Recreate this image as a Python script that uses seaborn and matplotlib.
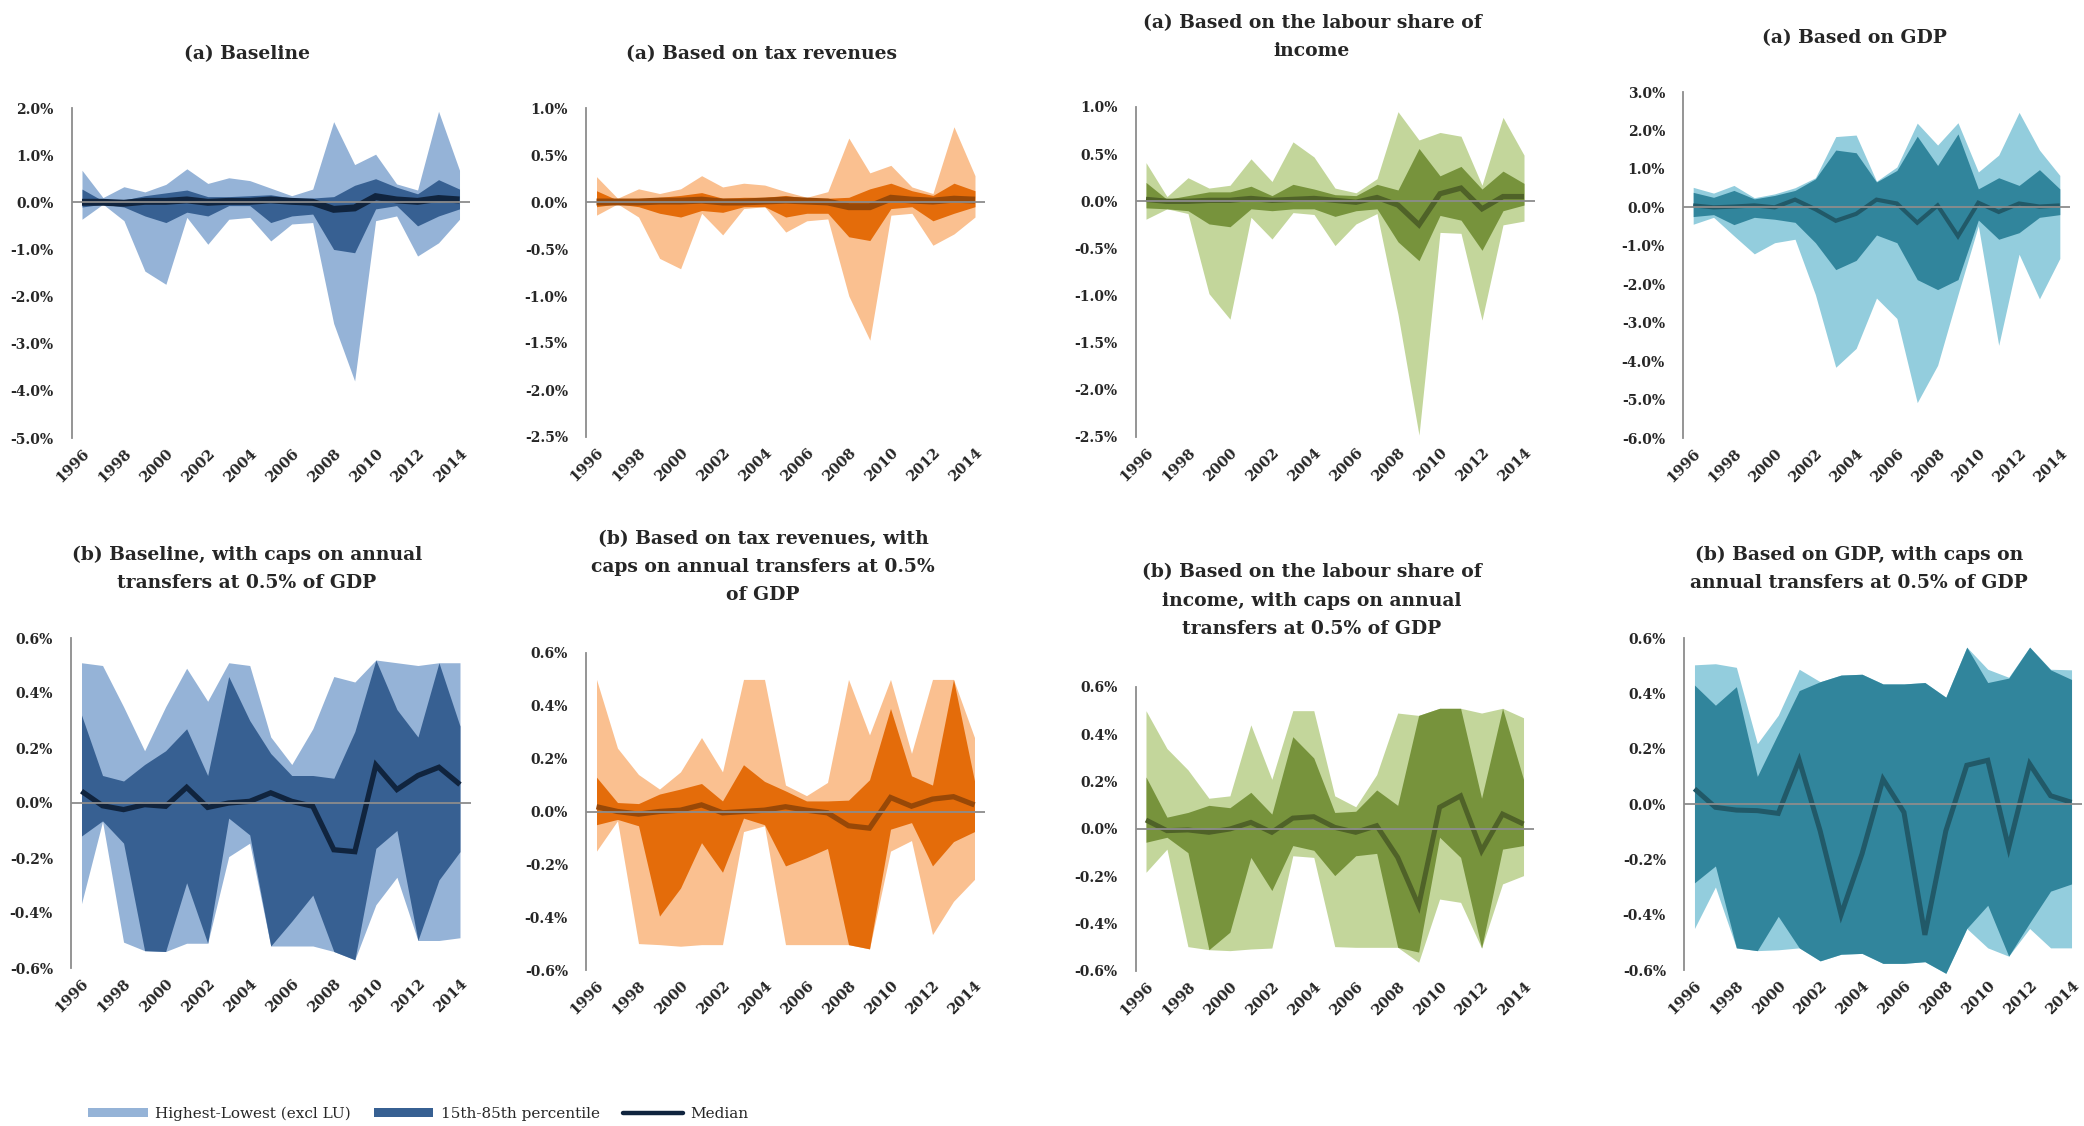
import matplotlib
matplotlib.use("Agg")
import matplotlib.pyplot as plt
from matplotlib.patches import Patch
from matplotlib.lines import Line2D
import seaborn as sns

years = list(range(1996, 2015))
year_ticks = years[::2]

# Values in % of GDP: highest, 85th percentile, median, 15th percentile, lowest (excl LU)
# (a) Baseline
base_hi = [0.68, 0.10, 0.33, 0.22, 0.38, 0.71, 0.40, 0.52, 0.46, 0.30, 0.14, 0.28, 1.71, 0.80, 1.02, 0.39, 0.26, 1.93, 0.68]
base_p85 = [0.28, 0.03, 0.05, 0.14, 0.20, 0.26, 0.12, 0.12, 0.14, 0.16, 0.09, 0.09, 0.12, 0.36, 0.50, 0.32, 0.18, 0.48, 0.28]
base_med = [0.00, 0.00, -0.02, 0.02, 0.02, 0.05, 0.00, 0.02, 0.02, 0.05, 0.02, 0.00, -0.15, -0.12, 0.12, 0.05, 0.02, 0.08, 0.05]
base_p15 = [-0.10, -0.04, -0.10, -0.29, -0.43, -0.21, -0.29, -0.07, -0.07, -0.43, -0.29, -0.25, -1.00, -1.07, -0.14, -0.07, -0.50, -0.29, -0.14]
base_lo = [-0.36, -0.04, -0.39, -1.46, -1.74, -0.32, -0.89, -0.36, -0.32, -0.82, -0.46, -0.43, -2.57, -3.79, -0.39, -0.29, -1.14, -0.86, -0.36]

# (a) Based on tax revenues
tax_hi = [0.27, 0.04, 0.14, 0.09, 0.14, 0.28, 0.16, 0.20, 0.18, 0.11, 0.05, 0.11, 0.68, 0.31, 0.39, 0.16, 0.09, 0.80, 0.28]
tax_p85 = [0.12, 0.02, 0.02, 0.05, 0.07, 0.10, 0.04, 0.05, 0.05, 0.07, 0.04, 0.04, 0.05, 0.14, 0.20, 0.12, 0.07, 0.20, 0.12]
tax_med = [0.00, 0.00, 0.00, 0.01, 0.01, 0.02, 0.00, 0.00, 0.01, 0.02, 0.01, 0.00, -0.05, -0.05, 0.04, 0.02, 0.01, 0.03, 0.02]
tax_p15 = [-0.05, -0.02, -0.05, -0.12, -0.16, -0.09, -0.11, -0.05, -0.05, -0.16, -0.12, -0.12, -0.37, -0.41, -0.07, -0.05, -0.20, -0.12, -0.05]
tax_lo = [-0.14, -0.02, -0.16, -0.60, -0.71, -0.12, -0.35, -0.07, -0.05, -0.32, -0.20, -0.18, -1.00, -1.47, -0.14, -0.12, -0.46, -0.34, -0.16]

# (a) Based on the labour share of income
lab_hi = [0.41, 0.05, 0.25, 0.14, 0.17, 0.45, 0.21, 0.63, 0.47, 0.14, 0.09, 0.24, 0.95, 0.65, 0.73, 0.69, 0.17, 0.89, 0.49]
lab_p85 = [0.20, 0.02, 0.06, 0.10, 0.10, 0.16, 0.06, 0.18, 0.13, 0.07, 0.06, 0.18, 0.12, 0.56, 0.27, 0.37, 0.13, 0.32, 0.19]
lab_med = [0.02, 0.00, 0.00, 0.01, 0.01, 0.03, 0.01, 0.02, 0.03, 0.01, -0.01, 0.04, -0.04, -0.25, 0.08, 0.14, -0.08, 0.05, 0.05]
lab_p15 = [-0.07, -0.08, -0.10, -0.24, -0.27, -0.08, -0.10, -0.08, -0.08, -0.16, -0.10, -0.08, -0.43, -0.63, -0.15, -0.20, -0.52, -0.10, -0.04]
lab_lo = [-0.19, -0.08, -0.13, -0.98, -1.25, -0.17, -0.40, -0.12, -0.14, -0.47, -0.24, -0.13, -1.20, -2.48, -0.33, -0.34, -1.26, -0.25, -0.21]

# (a) Based on GDP
gdp_hi = [0.52, 0.37, 0.57, 0.25, 0.35, 0.51, 0.77, 1.84, 1.88, 0.68, 1.05, 2.19, 1.62, 2.20, 0.92, 1.36, 2.47, 1.49, 0.83]
gdp_p85 = [0.39, 0.26, 0.44, 0.22, 0.31, 0.44, 0.74, 1.49, 1.42, 0.66, 0.96, 1.85, 1.09, 1.91, 0.48, 0.77, 0.57, 0.98, 0.48]
gdp_med = [0.05, 0.00, 0.02, 0.05, 0.00, 0.20, -0.05, -0.35, -0.17, 0.20, 0.10, -0.40, 0.05, -0.75, 0.12, -0.12, 0.10, 0.02, 0.05]
gdp_p15 = [-0.24, -0.19, -0.45, -0.26, -0.31, -0.39, -0.92, -1.62, -1.38, -0.72, -0.92, -1.88, -2.14, -1.88, -0.33, -0.83, -0.66, -0.26, -0.19]
gdp_lo = [-0.44, -0.26, -0.74, -1.21, -0.92, -0.83, -2.27, -4.16, -3.67, -2.36, -2.89, -5.08, -4.11, -2.27, -0.48, -3.59, -1.22, -2.38, -1.33]

# (b) Baseline, capped transfers
base_cap_hi = [0.51, 0.50, 0.35, 0.19, 0.35, 0.49, 0.37, 0.51, 0.50, 0.24, 0.14, 0.27, 0.46, 0.44, 0.52, 0.51, 0.50, 0.51, 0.51]
base_cap_p85 = [0.32, 0.10, 0.08, 0.14, 0.19, 0.27, 0.10, 0.46, 0.30, 0.18, 0.10, 0.10, 0.09, 0.26, 0.52, 0.34, 0.24, 0.51, 0.28]
base_cap_med = [0.043, -0.010, -0.024, -0.006, -0.012, 0.057, -0.016, 0.000, 0.006, 0.037, 0.006, -0.012, -0.170, -0.177, 0.138, 0.049, 0.100, 0.130, 0.067]
base_cap_p15 = [-0.12, -0.065, -0.146, -0.537, -0.54, -0.29, -0.51, -0.055, -0.116, -0.52, -0.43, -0.335, -0.54, -0.57, -0.165, -0.10, -0.50, -0.28, -0.177]
base_cap_lo = [-0.366, -0.067, -0.506, -0.537, -0.54, -0.51, -0.51, -0.195, -0.146, -0.52, -0.52, -0.52, -0.54, -0.57, -0.37, -0.27, -0.50, -0.50, -0.49]

# (b) Based on tax revenues, capped transfers
tax_cap_hi = [0.50, 0.24, 0.14, 0.085, 0.15, 0.28, 0.15, 0.50, 0.50, 0.10, 0.06, 0.11, 0.50, 0.29, 0.50, 0.22, 0.50, 0.50, 0.28]
tax_cap_p85 = [0.13, 0.034, 0.03, 0.066, 0.085, 0.106, 0.04, 0.177, 0.114, 0.078, 0.04, 0.04, 0.043, 0.12, 0.39, 0.135, 0.10, 0.50, 0.116]
tax_cap_med = [0.018, 0.0, -0.01, 0.0, 0.005, 0.025, -0.005, 0.0, 0.005, 0.018, 0.005, -0.005, -0.054, -0.063, 0.053, 0.02, 0.047, 0.056, 0.025]
tax_cap_p15 = [-0.05, -0.03, -0.054, -0.396, -0.29, -0.118, -0.23, -0.025, -0.05, -0.206, -0.175, -0.14, -0.504, -0.52, -0.067, -0.042, -0.206, -0.114, -0.076]
tax_cap_lo = [-0.15, -0.035, -0.50, -0.504, -0.51, -0.504, -0.504, -0.076, -0.054, -0.504, -0.504, -0.504, -0.504, -0.52, -0.15, -0.11, -0.466, -0.34, -0.257]

# (b) Based on the labour share of income, capped transfers
lab_cap_hi = [0.50, 0.34, 0.25, 0.13, 0.14, 0.44, 0.21, 0.50, 0.50, 0.14, 0.094, 0.23, 0.49, 0.48, 0.51, 0.51, 0.49, 0.51, 0.47]
lab_cap_p85 = [0.22, 0.05, 0.07, 0.10, 0.09, 0.155, 0.063, 0.39, 0.30, 0.07, 0.075, 0.165, 0.10, 0.48, 0.51, 0.51, 0.13, 0.51, 0.21]
lab_cap_med = [0.038, -0.007, -0.004, -0.014, 0.0, 0.028, -0.014, 0.046, 0.052, 0.007, -0.014, 0.014, -0.12, -0.324, 0.092, 0.14, -0.092, 0.063, 0.021]
lab_cap_p15 = [-0.056, -0.035, -0.10, -0.51, -0.436, -0.12, -0.26, -0.07, -0.09, -0.197, -0.113, -0.103, -0.50, -0.52, -0.035, -0.12, -0.503, -0.085, -0.07]
lab_cap_lo = [-0.183, -0.085, -0.497, -0.51, -0.514, -0.507, -0.503, -0.113, -0.12, -0.497, -0.50, -0.50, -0.50, -0.563, -0.296, -0.31, -0.503, -0.232, -0.197]

# (b) Based on GDP, capped transfers
gdp_cap_hi = [0.503, 0.507, 0.494, 0.218, 0.321, 0.487, 0.442, 0.466, 0.469, 0.434, 0.434, 0.439, 0.386, 0.567, 0.487, 0.458, 0.567, 0.487, 0.485]
gdp_cap_p85 = [0.43, 0.357, 0.424, 0.10, 0.255, 0.41, 0.442, 0.466, 0.469, 0.434, 0.434, 0.439, 0.386, 0.567, 0.439, 0.455, 0.567, 0.485, 0.45]
gdp_cap_med = [0.055, -0.012, -0.022, -0.024, -0.034, 0.158, -0.097, -0.40, -0.18, 0.09, -0.03, -0.473, -0.097, 0.14, 0.158, -0.158, 0.145, 0.03, 0.006]
gdp_cap_p15 = [-0.285, -0.224, -0.52, -0.53, -0.406, -0.52, -0.567, -0.543, -0.54, -0.576, -0.576, -0.57, -0.612, -0.45, -0.366, -0.55, -0.43, -0.315, -0.289]
gdp_cap_lo = [-0.45, -0.30, -0.52, -0.53, -0.527, -0.52, -0.567, -0.543, -0.54, -0.576, -0.576, -0.57, -0.612, -0.45, -0.52, -0.55, -0.45, -0.52, -0.52]

ticks_base = [2.0, 1.0, 0.0, -1.0, -2.0, -3.0, -4.0, -5.0]
ticks_half = [1.0, 0.5, 0.0, -0.5, -1.0, -1.5, -2.0, -2.5]
ticks_gdp = [3.0, 2.0, 1.0, 0.0, -1.0, -2.0, -3.0, -4.0, -5.0, -6.0]
ticks_cap = [0.6, 0.4, 0.2, 0.0, -0.2, -0.4, -0.6]

titles = [
    "(a) Baseline",
    "(a) Based on tax revenues",
    "(a) Based on the labour share of\nincome",
    "(a) Based on GDP",
    "(b) Baseline, with caps on annual\ntransfers at 0.5% of GDP",
    "(b) Based on tax revenues, with\ncaps on annual transfers at 0.5%\nof GDP",
    "(b) Based on the labour share of\nincome, with caps on annual\ntransfers at 0.5% of GDP",
    "(b) Based on GDP, with caps on\nannual transfers at 0.5% of GDP",
]

legend_labels = ["Highest-Lowest (excl LU)", "15th-85th percentile", "Median"]

palettes = {
    "blue": ("#95B3D7", "#376092", "#10243E"),
    "orange": ("#FAC090", "#E46C0A", "#984807"),
    "green": ("#C3D69B", "#77933C", "#4F6228"),
    "teal": ("#93CDDD", "#31859C", "#215968"),
}

series = [
    (base_hi, base_p85, base_med, base_p15, base_lo, ticks_base, "blue"),
    (tax_hi, tax_p85, tax_med, tax_p15, tax_lo, ticks_half, "orange"),
    (lab_hi, lab_p85, lab_med, lab_p15, lab_lo, ticks_half, "green"),
    (gdp_hi, gdp_p85, gdp_med, gdp_p15, gdp_lo, ticks_gdp, "teal"),
    (base_cap_hi, base_cap_p85, base_cap_med, base_cap_p15, base_cap_lo, ticks_cap, "blue"),
    (tax_cap_hi, tax_cap_p85, tax_cap_med, tax_cap_p15, tax_cap_lo, ticks_cap, "orange"),
    (lab_cap_hi, lab_cap_p85, lab_cap_med, lab_cap_p15, lab_cap_lo, ticks_cap, "green"),
    (gdp_cap_hi, gdp_cap_p85, gdp_cap_med, gdp_cap_p15, gdp_cap_lo, ticks_cap, "teal"),
]

# layout in pixels: plot box (left, top, right, bottom), title centre, median width
W, H = 2084, 1126
boxes = [
    (71.5, 108, 470, 438), (586, 108, 985.5, 437), (1135.5, 107, 1534.5, 437), (1683, 92, 2070, 438),
    (71, 638, 470.5, 968), (586, 653, 985, 970), (1135.5, 687, 1534, 971), (1684, 638, 2082, 970),
]
title_pos = [(247, 54), (762, 54), (1312, 37), (1854, 38),
             (247, 569), (763, 567), (1312, 601), (1859, 569)]
median_lw = [5.0, 5.0, 3.8, 3.0, 3.8, 3.8, 3.6, 3.6]

sns.set_theme(style="white")
plt.rcParams["font.family"] = ["DejaVu Serif"]

fig = plt.figure(figsize=(W / 100, H / 100), dpi=100)
fig.patch.set_facecolor("white")

axis_grey = "#8C8C8C"
text_col = "#262626"

for i, (hi, p85, med, p15, lo, yt, pal) in enumerate(series):
    l, t, r, b = boxes[i]
    ax = fig.add_axes([l / W, 1 - b / H, (r - l) / W, (b - t) / H])
    light, dark, mcol = palettes[pal]
    ax.fill_between(years, lo, hi, color=light, lw=0, zorder=1, clip_on=False)
    ax.fill_between(years, p15, p85, color=dark, lw=0, zorder=2, clip_on=False)
    sns.lineplot(x=years, y=med, ax=ax, color=mcol, lw=median_lw[i], zorder=3,
                 solid_joinstyle="miter", solid_capstyle="butt")
    ax.axhline(0, color=axis_grey, lw=1.3, zorder=4)
    ax.set_xlim(1995.5, 2014.5)
    ax.set_ylim(min(yt), max(yt))
    ax.set_yticks(yt)
    ax.set_yticklabels([f"{v:.1f}%" for v in yt], fontsize=10, fontweight="bold", color=text_col)
    ax.set_xticks(year_ticks)
    ax.set_xticklabels([str(y) for y in year_ticks], rotation=45, ha="right",
                       rotation_mode="anchor", fontsize=10.5, fontweight="bold", color=text_col)
    ax.tick_params(axis="y", length=0, pad=13)
    ax.tick_params(axis="x", length=0, pad=6)
    for s in ("top", "right", "bottom"):
        ax.spines[s].set_visible(False)
    ax.spines["left"].set_color(axis_grey)
    ax.spines["left"].set_linewidth(1.3)
    ax.set_facecolor("none")
    ax.grid(False)
    ax.set_xlabel("")
    ax.set_ylabel("")
    tx, ty = title_pos[i]
    fig.text(tx / W, 1 - ty / H, titles[i], ha="center", va="center", fontsize=13.5,
             fontweight="bold", color=text_col, linespacing=1.75)

light, dark, mcol = palettes["blue"]
handles = [Patch(facecolor=light, edgecolor="none"),
           Patch(facecolor=dark, edgecolor="none"),
           Line2D([0], [0], color=mcol, lw=3.2)]
fig.legend(handles, legend_labels, loc="center left", bbox_to_anchor=(88 / W, 1 - 1114 / H),
           ncol=3, frameon=False, fontsize=11, handlelength=3.9, handleheight=0.55,
           handletextpad=0.5, columnspacing=1.5, borderpad=0, borderaxespad=0,
           labelcolor=text_col)

fig.savefig("out.png", dpi=100, facecolor="white")
